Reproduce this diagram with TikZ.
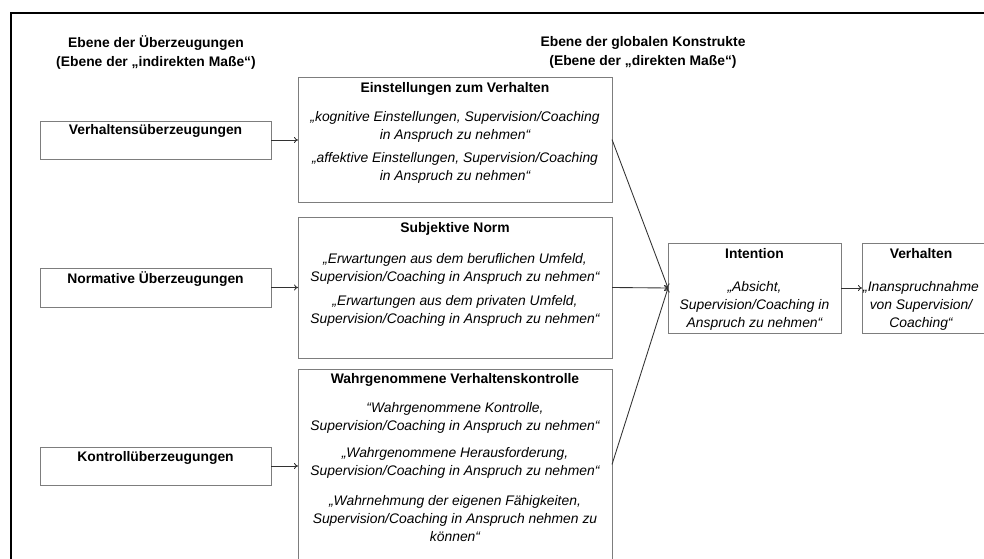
\documentclass[tikz,border=0pt]{standalone}
\usepackage{fontspec}
\setmainfont{Liberation Sans}
\usetikzlibrary{arrows.meta}
\definecolor{boxgray}{RGB}{125,125,125}
\definecolor{arrowgray}{RGB}{50,50,50}
\tikzset{
  box/.style={draw=boxgray, line width=0.7pt, rectangle, inner sep=0pt, outer sep=0pt},
  lbox/.style={box, minimum width=173.25pt},
  mbox/.style={box, minimum width=235.5pt},
  ttl/.style={font=\fontsize{10.4pt}{13.5pt}\selectfont\bfseries, inner sep=0pt, align=center},
  hdr/.style={font=\fontsize{10.4pt}{14.25pt}\selectfont\bfseries, inner sep=0pt, align=center},
  itx/.style={font=\fontsize{10.4pt}{13.5pt}\selectfont\itshape, inner sep=0pt, align=center},
  conn/.style={draw=arrowgray, line width=0.65pt, -{To[length=3pt,width=4.5pt]}},
}
\begin{document}
\begin{tikzpicture}[x=0.75pt, y=-0.75pt]
\useasboundingbox (0,0) rectangle (984,559);
\clip (0,0) rectangle (984,559);
% outer frame (only top and left visible)
\draw[line width=1.6pt, black] (11,600) -- (11,13) -- (1000,13);

% headers
\node[hdr] (h1) at (156,52.5) {Ebene der Überzeugungen\\(Ebene der „indirekten Maße“)};
\node[hdr] (h2) at (643,52.5) {Ebene der globalen Konstrukte\\(Ebene der „direkten Maße“)};

% left boxes
\node[lbox, minimum height=28.5pt] (V) at (155.5,140) {};
\node[lbox, minimum height=29.25pt] (N) at (155.5,287.5) {};
\node[lbox, minimum height=28.5pt] (K) at (155.5,466) {};
\node[ttl] (Vt) at (155.5,131) {Verhaltensüberzeugungen};
\node[ttl] (Nt) at (155.5,279) {Normative Überzeugungen};
\node[ttl] (Kt) at (155.5,457.5) {Kontrollüberzeugungen};

% middle boxes
\node[mbox, minimum height=93.75pt] (E) at (455,139.5) {};
\node[mbox, minimum height=105.75pt] (S) at (455,287.5) {};
\node[mbox, minimum height=143.25pt] (W) at (455,464.5) {};

\node[ttl] (Et) at (455,89) {Einstellungen zum Verhalten};
\node[itx] (E1) at (455,127) {„kognitive Einstellungen, Supervision/Coaching\\in Anspruch zu nehmen“};
\node[itx] (E2) at (455,167.5) {„affektive Einstellungen, Supervision/Coaching\\in Anspruch zu nehmen“};

\node[ttl] (St) at (455,228.5) {Subjektive Norm};
\node[itx] (S1) at (455,269) {„Erwartungen aus dem beruflichen Umfeld,\\Supervision/Coaching in Anspruch zu nehmen“};
\node[itx] (S2) at (455,310.5) {„Erwartungen aus dem privaten Umfeld,\\Supervision/Coaching in Anspruch zu nehmen“};

\node[ttl] (Wt) at (455,380) {Wahrgenommene Verhaltenskontrolle};
\node[itx] (W1) at (455,418) {“Wahrgenommene Kontrolle,\\Supervision/Coaching in Anspruch zu nehmen“};
\node[itx] (W2) at (455,463) {„Wahrgenommene Herausforderung,\\Supervision/Coaching in Anspruch zu nehmen“};
\node[itx] (W3) at (455,519) {„Wahrnehmung der eigenen Fähigkeiten,\\Supervision/Coaching in Anspruch nehmen zu\\können“};

% right boxes
\node[box, minimum width=129.75pt, minimum height=67.5pt] (I) at (754.5,288) {};
\node[box, minimum width=150pt, minimum height=67.5pt] (B) at (962,288) {};
\node[ttl] (It) at (754.5,253.5) {Intention};
\node[itx] (I1) at (754.5,306) {„Absicht,\\Supervision/Coaching in\\Anspruch zu nehmen“};
\node[ttl] (Bt) at (921,253.5) {Verhalten};
\node[itx] (B1) at (921,306) {„Inanspruchnahme\\von Supervision/\\Coaching“};

% connectors
\draw[conn] (V.east) -- (V.east -| E.west);
\draw[conn] (N.east) -- (N.east -| S.west);
\draw[conn] (K.east) -- (K.east -| W.west);
\draw[conn] (E.east) -- (I.west);
\draw[conn] (S.east) -- (I.west);
\draw[conn] (W.east) -- (I.west);
\draw[conn] (I.east) -- (B.west);
\end{tikzpicture}
\end{document}
